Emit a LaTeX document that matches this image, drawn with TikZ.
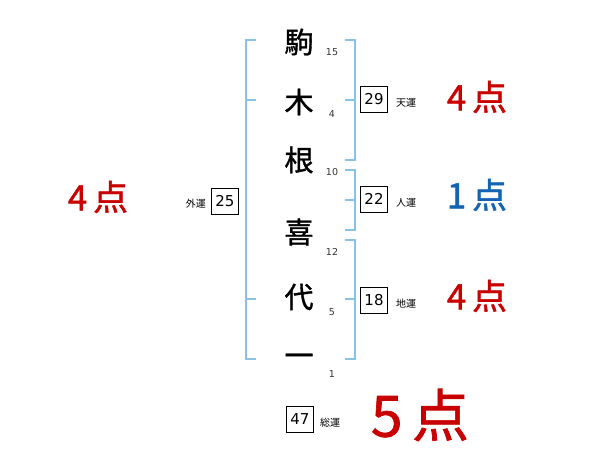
\documentclass[tikz,border=0pt]{standalone}
\usepackage{fontspec}
\newfontfamily\jp{Noto Sans CJK JP}
\newfontfamily\jpm[FakeBold=1.2]{Noto Sans CJK JP}
\setmainfont{DejaVu Sans}
\definecolor{brk}{RGB}{135,195,232}
\definecolor{ptred}{RGB}{200,0,0}
\definecolor{ptblue}{RGB}{20,100,180}
\begin{document}
\begin{tikzpicture}[x=1pt,y=-1pt,
  kanji/.style={font=\jpm\fontsize{29}{29}\selectfont, inner sep=0pt},
  strokes/.style={font=\fontsize{9.5}{9.5}\selectfont, inner sep=0pt, text=black!80},
  numbox/.style={draw=black, line width=0.7pt, minimum width=27pt, minimum height=26pt, inner sep=0pt, font=\fontsize{15}{15}\selectfont},
  unlabel/.style={font=\jp\fontsize{10}{10}\selectfont, inner sep=0pt},
  brkline/.style={draw=brk, line width=1.6pt},
  pts/.style={font=\jpm\fontsize{35}{35}\selectfont, inner sep=0pt}
]
\useasboundingbox (0,0) rectangle (600,470);
% kanji
\node[kanji] (k1) at (299,42) {駒};
\node[kanji] (k2) at (299,102) {木};
\node[kanji] (k3) at (299,160) {根};
\node[kanji] (k4) at (299,232) {喜};
\node[kanji] (k5) at (299,297) {代};
\node[kanji] (k6) at (299,360) {一};
% stroke counts
\node[strokes] (s1) at (332,52) {15};
\node[strokes] (s2) at (332,114) {4};
\node[strokes] (s3) at (332,172) {10};
\node[strokes] (s4) at (332,252) {12};
\node[strokes] (s5) at (332,312) {5};
\node[strokes] (s6) at (332,374) {1};
% left bracket
\coordinate (lt) at (246,40);
\coordinate (lb) at (246,359);
\draw[brkline] (256,40) -- (lt) -- (lb) -- (256,359);
\draw[brkline] (246,100) -- (256,100);
\draw[brkline] (246,299) -- (256,299);
% right brackets
\draw[brkline] (345,40) -- (355,40) -- (355,160) -- (345,160);
\draw[brkline] (345,100) -- (355,100);
\draw[brkline] (345,170) -- (355,170) -- (355,230) -- (345,230);
\draw[brkline] (345,200) -- (355,200);
\draw[brkline] (345,240) -- (355,240) -- (355,359) -- (345,359);
\draw[brkline] (345,299) -- (355,299);
% boxes
\node[numbox] (ten) at (374,99) {29};
\node[unlabel, anchor=west] (tenl) at (396,103) {天運};
\node[numbox] (jin) at (374,199) {22};
\node[unlabel, anchor=west] (jinl) at (396,203) {人運};
\node[numbox] (chi) at (374,300) {18};
\node[unlabel, anchor=west] (chil) at (396,304) {地運};
\node[numbox] (gai) at (225,201) {25};
\node[unlabel, anchor=east] (gail) at (206,204) {外運};
\node[numbox] (so) at (300,419) {47};
\node[unlabel, anchor=west] (sol) at (320,423) {総運};
% points
\node[pts, text=ptred] (p1) at (477,97) {4\,点};
\node[pts, text=ptblue] (p2) at (477,195) {1\,点};
\node[pts, text=ptred] (p3) at (477,296) {4\,点};
\node[pts, text=ptred] (p4) at (98,197) {4\,点};
\node[font=\jpm\fontsize{57}{57}\selectfont, inner sep=0pt, text=ptred] (p5) at (420,415) {5\,点};
\end{tikzpicture}
\end{document}
